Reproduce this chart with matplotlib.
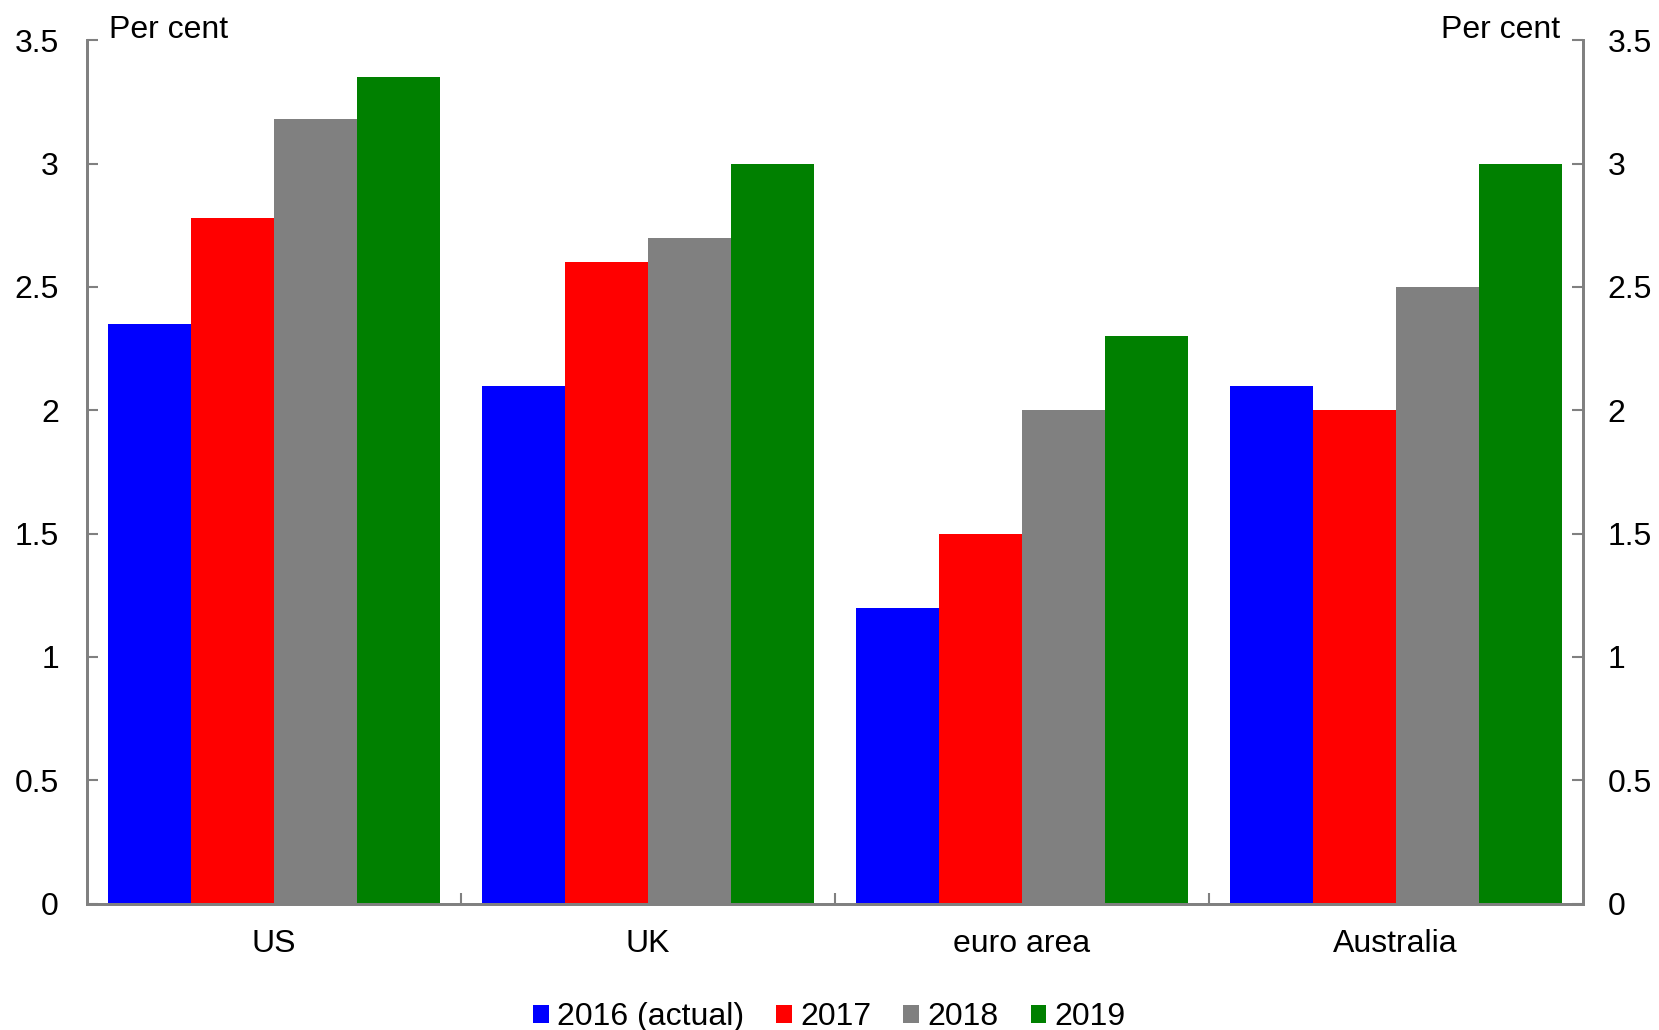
import numpy as np
import matplotlib
matplotlib.use("Agg")
import matplotlib.pyplot as plt
from matplotlib.ticker import FixedLocator

plt.rcParams['font.family'] = ['Liberation Sans', 'DejaVu Sans']

regions = ["US", "UK", "euro area", "Australia"]
years = ["2016 (actual)", "2017", "2018", "2019"]
growth_2016 = [2.35, 2.1, 1.2, 2.1]
growth_2017 = [2.78, 2.6, 1.5, 2.0]
growth_2018 = [3.18, 2.7, 2.0, 2.5]
growth_2019 = [3.35, 3.0, 2.3, 3.0]
yticks = [0, 0.5, 1, 1.5, 2, 2.5, 3, 3.5]
ytick_labels = ["0", "0.5", "1", "1.5", "2", "2.5", "3", "3.5"]

series = [growth_2016, growth_2017, growth_2018, growth_2019]
colors = ["#0000ff", "#ff0000", "#808080", "#008000"]
spine_col = "#808080"
fs = 23

fig = plt.figure(figsize=(16.59, 10.30), dpi=100)
ax = fig.add_axes([0.0523, 0.1227, 0.9017, 0.8383])

x = np.arange(len(regions))
w = 0.222
for i, (vals, c, lab) in enumerate(zip(series, colors, years)):
    ax.bar(x + (i - 1.5) * w, vals, width=w, color=c, label=lab,
           edgecolor="none", linewidth=0)

ax.set_xlim(-0.5, len(regions) - 0.5)
ax.set_ylim(0, 3.5)
ax.set_yticks(yticks)
ax.set_yticklabels(ytick_labels)
ax.set_xticks(x)
ax.set_xticklabels(regions)
ax.xaxis.set_minor_locator(FixedLocator([0.5, 1.5, 2.5]))
ax.tick_params(axis='x', which='major', length=0, pad=18, labelsize=fs)
ax.tick_params(axis='x', which='minor', direction='in', length=8,
               width=1.5, color=spine_col)
ax.tick_params(axis='y', direction='in', length=8, width=1.5,
               color=spine_col, labelsize=fs, pad=20)

ax2 = ax.twinx()
ax2.set_ylim(0, 3.5)
ax2.set_yticks(yticks)
ax2.set_yticklabels(ytick_labels)
ax2.tick_params(axis='y', direction='in', length=8, width=1.5,
                color=spine_col, labelsize=fs, pad=18)

for a in (ax, ax2):
    a.spines['top'].set_visible(False)
    for s in ('left', 'right', 'bottom'):
        a.spines[s].set_color(spine_col)
        a.spines[s].set_linewidth(2)

ax.text(0.015, 1.012, "Per cent", transform=ax.transAxes, fontsize=fs,
        ha='left', va='center')
ax.text(0.985, 1.012, "Per cent", transform=ax.transAxes, fontsize=fs,
        ha='right', va='center')

fig.legend(loc='lower center', bbox_to_anchor=(0.5, -0.03), ncol=4,
           frameon=False, fontsize=fs, handlelength=0.5, handleheight=0.5,
           handletextpad=0.25, columnspacing=1.0)

fig.savefig("out.png", dpi=100)
